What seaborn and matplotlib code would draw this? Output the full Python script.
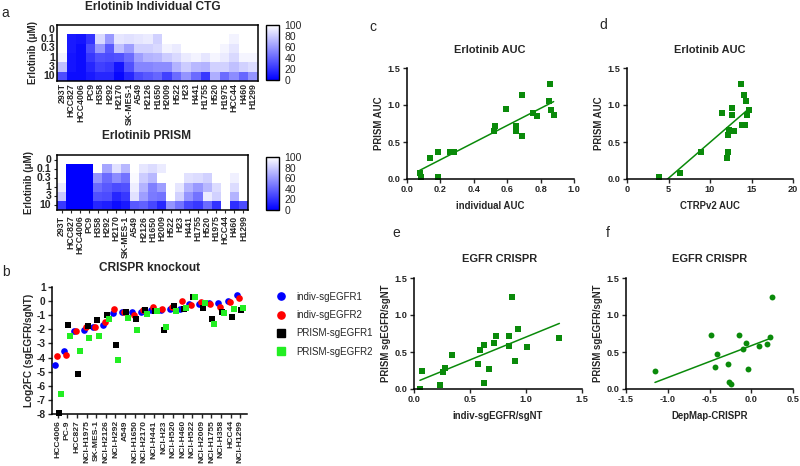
import numpy as np
import pandas as pd
import seaborn as sns
import matplotlib.pyplot as plt
from matplotlib.colors import LinearSegmentedColormap
from matplotlib.lines import Line2D

# ---- panel a: erlotinib viability heatmaps (% of DMSO) ----
doses = ["0", "0.1", "0.3", "1", "3", "10"]
heat_lines = ["293T", "HCC827", "HCC4006", "PC9", "H358", "H292", "H2170", "SK-MES-1", "A549", "H2126",
              "H1650", "H2009", "H522", "H23", "H441", "H1755", "H520", "H1975", "HCC44", "H460", "H1299"]

ctg_viability = [
    [100, 100, 100, 100, 100, 100, 100, 100, 100, 100, 100, 100, 100, 100, 100, 100, 100, 100, 100, 100, 100],
    [100, 10, 8, 20, 85, 60, 90, 88, 90, 92, 82, 100, 100, 100, 100, 100, 100, 100, 95, 100, 100],
    [100, 10, 5, 30, 60, 35, 75, 62, 82, 82, 85, 95, 92, 100, 100, 100, 100, 96, 90, 100, 100],
    [95, 8, 5, 22, 32, 30, 32, 42, 62, 70, 72, 80, 85, 92, 95, 90, 96, 92, 85, 96, 96],
    [75, 8, 5, 15, 25, 22, 8, 32, 52, 52, 55, 55, 70, 80, 72, 70, 82, 82, 75, 82, 86],
    [30, 5, 5, 10, 15, 15, 3, 15, 30, 35, 40, 25, 42, 58, 42, 22, 68, 42, 55, 40, 58],
]

prism_viability = [
    [100, 100, 100, 100, 100, 100, 100, 100, 100, 100, 100, 100, 100, 100, 100, 100, 100, 100, 100, 100, 100],
    [100, 0, 0, 0, 100, 65, 88, 72, 100, 90, 86, 92, 100, 100, 100, 100, 100, 100, 100, 100, 100],
    [100, 0, 0, 0, 58, 42, 55, 45, 98, 80, 72, 100, 100, 100, 88, 86, 82, 100, 100, 94, 100],
    [92, 0, 0, 0, 42, 35, 30, 32, 93, 70, 50, 62, 100, 90, 70, 60, 72, 86, 100, 86, 100],
    [78, 0, 0, 0, 32, 30, 15, 22, 88, 62, 48, 45, 100, 82, 58, 45, 92, 82, 100, 70, 100],
    [22, 0, 0, 0, 15, 12, 5, 10, 35, 38, 28, 15, 58, 45, 28, 22, 42, 20, 100, 18, 30],
]

# ---- panel b: CRISPR knockout log2FC ----
crispr_lines = ["HCC4006", "PC-9", "HCC827", "NCI-H1975", "SK-MES-1", "NCI-H2126", "NCI-H292", "A549",
                "NCI-H1650", "NCI-H2170", "NCI-H441", "NCI-H23", "NCI-H520", "NCI-H460", "NCI-H522",
                "NCI-H2009", "NCI-H1755", "NCI-H358", "HCC44", "NCI-H1299"]
indiv_sg1 = [-4.5, -3.55, -2.1, -2.05, -1.8, -1.7, -0.85, -0.75, -0.75, -0.75, -0.6, -0.6, -0.55, -0.55,
             -0.2, -0.2, -0.15, -0.15, 0.03, 0.45]
indiv_sg2 = [-3.9, -3.8, -2.15, -1.85, -1.85, -1.45, -0.55, -0.8, -0.95, -0.6, -0.4, -0.55, -0.4, 0.0,
             -0.25, -0.05, -0.2, -0.4, -0.05, 0.25]
prism_sg1 = [-7.9, -1.7, -5.2, -1.75, -1.35, -0.95, -3.1, -0.75, -1.25, -0.6, -0.7, -2.05, -0.35, -0.55,
             0.3, -0.5, -1.3, -0.75, -1.15, -0.6]
prism_sg2 = [-6.6, -2.5, -3.55, -2.6, -2.5, -1.3, -4.15, -1.2, -2.05, -0.9, -0.7, -1.85, -0.7, -0.5,
             0.3, -0.15, -1.6, -0.85, -0.55, -0.5]
guide_order = ["indiv-sgEGFR1", "indiv-sgEGFR2", "PRISM-sgEGFR1", "PRISM-sgEGFR2"]
guide_colors = {"indiv-sgEGFR1": "#0000ff", "indiv-sgEGFR2": "#ff0000",
                "PRISM-sgEGFR1": "#000000", "PRISM-sgEGFR2": "#22ee22"}

# ---- panel c / d: Erlotinib AUC ----
indiv_auc = [0.076, 0.086, 0.136, 0.186, 0.186, 0.256, 0.27, 0.28, 0.52, 0.526, 0.59, 0.652, 0.652,
             0.654, 0.688, 0.688, 0.754, 0.776, 0.848, 0.856, 0.864, 0.878]
prism_auc_c = [0.077, 0.03, 0.28, 0.37, 0.03, 0.37, 0.37, 0.37, 0.65, 0.72, 0.95, 0.715, 0.68, 0.655,
               1.14, 0.58, 0.89, 0.855, 1.05, 1.285, 0.93, 0.865]
ctrp_auc = [3.9, 6.4, 8.9, 11.5, 12.2, 12.1, 12.2, 12.3, 12.7, 12.7, 12.9, 13.7, 13.8, 14.1, 14.3,
            14.2, 14.4, 14.7]
prism_auc_d = [0.03, 0.086, 0.37, 0.895, 0.37, 0.285, 0.59, 0.66, 0.96, 0.86, 0.65, 1.29, 0.73, 1.14,
               1.06, 0.73, 0.87, 0.93]

# ---- panel e / f: EGFR CRISPR ----
indiv_ratio = [0.053, 0.074, 0.229, 0.258, 0.276, 0.339, 0.567, 0.591, 0.627, 0.621, 0.668, 0.716,
               0.734, 0.852, 0.849, 0.873, 0.9, 0.93, 1.01, 1.298]
prism_ratio_e = [0.004, 0.245, 0.053, 0.227, 0.28, 0.458, 0.334, 0.525, 0.596, 0.085, 0.267, 0.619,
                 0.72, 0.712, 0.583, 1.242, 0.374, 0.81, 0.565, 0.69]
depmap_crispr = [-1.153, -0.488, -0.416, -0.432, -0.281, -0.265, -0.237, -0.145, -0.098, -0.066,
                 -0.034, 0.09, 0.189, 0.229, 0.249]
prism_ratio_f = [0.242, 0.736, 0.476, 0.296, 0.341, 0.099, 0.067, 0.723, 0.534, 0.624, 0.274, 0.579,
                 0.611, 0.705, 1.244]

W, H = 800, 466
GREEN = "#0a8a0a"


def box(x0, y0, x1, y1):
    # pixel box (top-left origin) -> figure fraction rect
    return [x0 / W, 1 - y1 / H, (x1 - x0) / W, (y1 - y0) / H]


sns.set_style("ticks")
plt.rcParams["font.family"] = ["Liberation Sans", "DejaVu Sans"]
plt.rcParams["axes.unicode_minus"] = False

fig = plt.figure(figsize=(8, 4.66), dpi=100)
cmap = LinearSegmentedColormap.from_list("blue_white", ["#0000ff", "#ffffff"])


def draw_heat(values, ax_rect, cax_rect, title, title_xy, with_ticks):
    ax = fig.add_axes(box(*ax_rect))
    cax = fig.add_axes(box(*cax_rect))
    df = pd.DataFrame(values, index=doses, columns=heat_lines)
    sns.heatmap(df, ax=ax, cmap=cmap, vmin=0, vmax=100, cbar_ax=cax, linewidths=0,
                xticklabels=True, yticklabels=True)
    for sp in ax.spines.values():
        sp.set_visible(True)
        sp.set_linewidth(1.1)
        sp.set_color("black")
    ax.set_xticklabels(heat_lines, rotation=90, fontsize=6.3, fontweight="bold")
    ax.set_yticklabels(doses, rotation=0, fontsize=7.6, fontweight="bold")
    ax.tick_params(length=2.5 if with_ticks else 0, width=0.8, pad=1.5)
    ax.set_xlabel("")
    ax.set_ylabel("Erlotinib (μM)", fontsize=7, fontweight="bold", labelpad=2)
    cbar = ax.collections[0].colorbar
    cbar.set_ticks([0, 20, 40, 60, 80, 100])
    cbar.set_ticklabels(["0", "20", "40", "60", "80", "100"], fontsize=7.5)
    cax.tick_params(direction="in", length=3, width=0.8, pad=4)
    cbar.outline.set_linewidth(1.0)
    cbar.outline.set_edgecolor("black")
    fig.text(title_xy[0] / W, 1 - title_xy[1] / H, title, ha="center", va="center",
             fontsize=8.6, fontweight="bold")


draw_heat(ctg_viability, (57, 25, 258, 81), (266, 25, 279, 80),
          "Erlotinib Individual CTG", (153, 7), False)
draw_heat(prism_viability, (57, 155, 248, 210), (266, 157, 279, 210),
          "Erlotinib PRISM", (147, 136), True)

# ---- panel b ----
df_b = pd.DataFrame({
    "line": crispr_lines * 4,
    "log2fc": indiv_sg1 + indiv_sg2 + prism_sg1 + prism_sg2,
    "guide": sum([[g] * len(crispr_lines) for g in guide_order], []),
})
ax_b = fig.add_axes(box(52, 287, 247, 414))
for prefix, mk in (("indiv", "o"), ("PRISM", "s")):
    sub = df_b[df_b["guide"].str.startswith(prefix)]
    sns.stripplot(data=sub, x="line", y="log2fc", hue="guide", hue_order=guide_order,
                  order=crispr_lines, palette=guide_colors, dodge=True, jitter=False,
                  marker=mk, size=4.8, linewidth=0, legend=False, ax=ax_b)
for coll in ax_b.collections:
    coll.set_clip_on(False)
ax_b.set_xlim(-0.6, 19.7)
ax_b.set_ylim(-8, 1)
ax_b.set_yticks(list(range(1, -9, -1)))
ax_b.set_yticklabels([str(v) for v in range(1, -9, -1)], fontsize=7.3, fontweight="bold")
ax_b.set_xticks(range(len(crispr_lines)))
ax_b.set_xticklabels(crispr_lines, rotation=90, fontsize=6.1, fontweight="bold")
ax_b.tick_params(length=3, width=1, pad=1.5)
ax_b.set_xlabel("")
ax_b.set_ylabel("Log2FC (sgEGFR/sgNT)", fontsize=7.2, fontweight="bold", labelpad=2)
sns.despine(ax=ax_b)
for sp in ("left", "bottom"):
    ax_b.spines[sp].set_linewidth(1.1)
    ax_b.spines[sp].set_color("black")
fig.text(150 / W, 1 - 268 / H, "CRISPR knockout", ha="center", va="center",
         fontsize=8.6, fontweight="bold")

handles = [Line2D([], [], ls="", marker="o" if g.startswith("indiv") else "s",
                  color=guide_colors[g], markersize=5.2) for g in guide_order]
fig.legend(handles, guide_order, loc="upper left", bbox_to_anchor=(271 / W, 1 - 288 / H),
           frameon=False, fontsize=7.0, handlelength=1.2, handletextpad=1.0, labelspacing=0.85,
           borderaxespad=0)


# ---- panels c-f ----
def draw_corr(x, y, rect, marker, title, title_xy, xlabel, ylabel, xlim, xticks, xfmt):
    ax = fig.add_axes(box(*rect))
    sns.regplot(x=np.array(x), y=np.array(y), ax=ax, ci=None, marker=marker, color=GREEN,
                scatter_kws={"s": 18, "linewidths": 0, "alpha": 1},
                line_kws={"lw": 1.1})
    ax.set_xlim(*xlim)
    ax.set_ylim(0, 1.5)
    ax.set_xticks(xticks)
    ax.set_xticklabels([xfmt.format(v) for v in xticks], fontsize=6.6, fontweight="bold")
    ax.set_yticks([0, 0.5, 1.0, 1.5])
    ax.set_yticklabels(["0.0", "0.5", "1.0", "1.5"], fontsize=6.6, fontweight="bold")
    ax.tick_params(length=3, width=1, pad=1.5)
    ax.set_xlabel(xlabel, fontsize=6.9, fontweight="bold", labelpad=5)
    ax.set_ylabel(ylabel, fontsize=6.9, fontweight="bold", labelpad=3)
    sns.despine(ax=ax)
    for sp in ("left", "bottom"):
        ax.spines[sp].set_linewidth(1.1)
        ax.spines[sp].set_color("black")
    fig.text(title_xy[0] / W, 1 - title_xy[1] / H, title, ha="center", va="center",
             fontsize=7.9, fontweight="bold")
    return ax


draw_corr(indiv_auc, prism_auc_c, (407, 68, 574, 179), "s", "Erlotinib AUC", (490, 50),
          "individual AUC", "PRISM AUC", (0, 1.0), [0, 0.2, 0.4, 0.6, 0.8, 1.0], "{:.1f}")
draw_corr(ctrp_auc, prism_auc_d, (627, 68, 793, 179), "s", "Erlotinib AUC", (710, 50),
          "CTRPv2 AUC", "PRISM AUC", (0, 20), [0, 5, 10, 15, 20], "{:d}")
draw_corr(indiv_ratio, prism_ratio_e, (414, 278, 582, 389), "s", "EGFR CRISPR", (500, 259),
          "indiv-sgEGFR/sgNT", "PRISM sgEGFR/sgNT", (0, 1.5), [0, 0.5, 1.0, 1.5], "{:.1f}")
draw_corr(depmap_crispr, prism_ratio_f, (626, 278, 793, 389), "o", "EGFR CRISPR", (710, 259),
          "DepMap-CRISPR", "PRISM sgEGFR/sgNT", (-1.5, 0.5), [-1.5, -1.0, -0.5, 0.0, 0.5], "{:.1f}")

# panel letters
for letter, (px, py) in {"a": (5, 13), "b": (6, 272), "c": (373, 27), "d": (603, 25),
                         "e": (396, 233), "f": (608, 233)}.items():
    fig.text(px / W, 1 - py / H, letter, ha="center", va="center", fontsize=10)

fig.savefig("out.png", dpi=100)
